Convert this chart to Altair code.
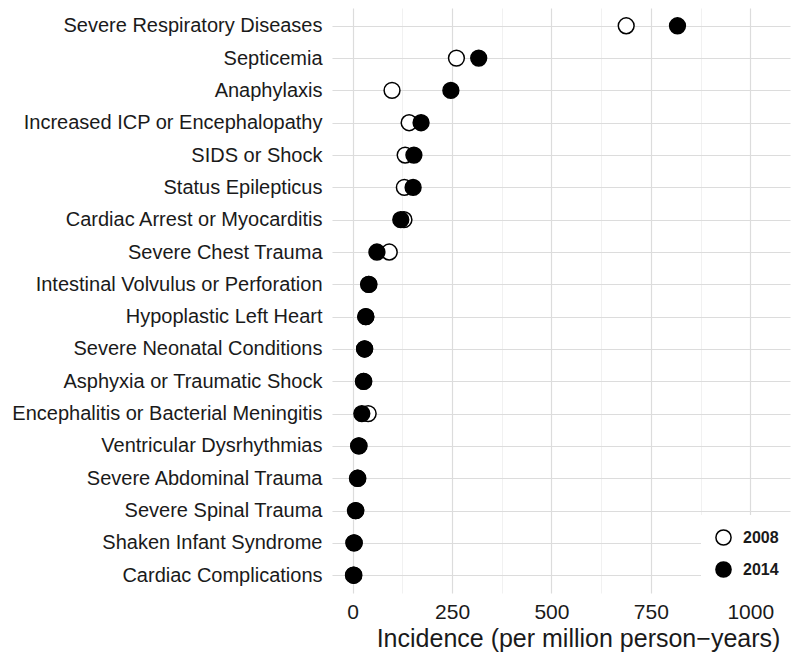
import altair as alt
import pandas as pd

categories = [
    "Severe Respiratory Diseases",
    "Septicemia",
    "Anaphylaxis",
    "Increased ICP or Encephalopathy",
    "SIDS or Shock",
    "Status Epilepticus",
    "Cardiac Arrest or Myocarditis",
    "Severe Chest Trauma",
    "Intestinal Volvulus or Perforation",
    "Hypoplastic Left Heart",
    "Severe Neonatal Conditions",
    "Asphyxia or Traumatic Shock",
    "Encephalitis or Bacterial Meningitis",
    "Ventricular Dysrhythmias",
    "Severe Abdominal Trauma",
    "Severe Spinal Trauma",
    "Shaken Infant Syndrome",
    "Cardiac Complications",
]
inc_2008 = [688, 261, 99, 142, 132, 130, 129, 92, 40, 33, 30, 27, 39, 15, 12, 7, 3, 2]
inc_2014 = [817, 317, 247, 172, 154, 152, 121, 61, 41, 33, 30, 28, 23, 16, 13, 8, 4, 3]
years = ["2008", "2014"]
x_ticks = [0, 125, 250, 375, 500, 625, 750, 875, 1000]

rows = []
for c, v in zip(categories, inc_2008):
    rows.append({"condition": c, "year": "2008", "incidence": v})
for c, v in zip(categories, inc_2014):
    rows.append({"condition": c, "year": "2014", "incidence": v})
df = pd.DataFrame(rows)

FONT = "Liberation Sans"
TXT = "#1a1a1a"

chart = (
    alt.Chart(df)
    .mark_point(filled=True, shape="circle", size=250, stroke="black",
                strokeWidth=1.5, opacity=1)
    .encode(
        x=alt.X(
            "incidence:Q",
            scale=alt.Scale(domain=[-52, 1100], nice=False, zero=False),
            axis=alt.Axis(
                values=x_ticks,
                format="d",
                labelExpr="datum.value % 250 == 0 ? datum.label : ''",
                title="Incidence (per million person\u2212years)",
                domain=False,
                ticks=False,
                labelFontSize=21,
                labelColor=TXT,
                labelPadding=8,
                labelFlush=False,
                titleFontSize=25,
                titleFontWeight="normal",
                titleColor=TXT,
                titlePadding=4,
                titleX=246,
                gridColor={"condition": {"test": "datum.value % 250 != 0", "value": "#eeeeee"}, "value": "#dcdcdc"},
                gridWidth={"condition": {"test": "datum.value % 250 != 0", "value": 0.8}, "value": 1.2},
            ),
        ),
        y=alt.Y(
            "condition:N",
            sort=categories,
            scale=alt.Scale(type="point", padding=0.55),
            axis=alt.Axis(
                title=None,
                grid=True,
                ticks=False,
                domain=False,
                labelFontSize=20,
                labelColor=TXT,
                labelPadding=10,
                labelLimit=400,
                gridColor="#dcdcdc",
                gridWidth=1.2,
            ),
        ),
        fill=alt.Fill(
            "year:N",
            scale=alt.Scale(domain=years, range=["white", "black"]),
            legend=alt.Legend(
                title=None,
                orient="none",
                legendX=369,
                legendY=507,
                padding=14,
                fillColor="white",
                symbolType="circle",
                symbolSize=230,
                symbolStrokeColor="black",
                symbolStrokeWidth=1.5,
                labelFontSize=16,
                labelFontWeight="bold",
                labelColor=TXT,
                labelOffset=11,
                rowPadding=9,
            ),
        ),
    )
    .properties(
        width=458,
        height=585,
        autosize=alt.AutoSizeParams(type="none"),
        padding={"left": 324, "top": 0, "right": 2, "bottom": 66},
    )
    .configure(font=FONT)
    .configure_view(stroke=None)
)

chart.save("out.html", embed_options={"renderer": "svg", "actions": False})
